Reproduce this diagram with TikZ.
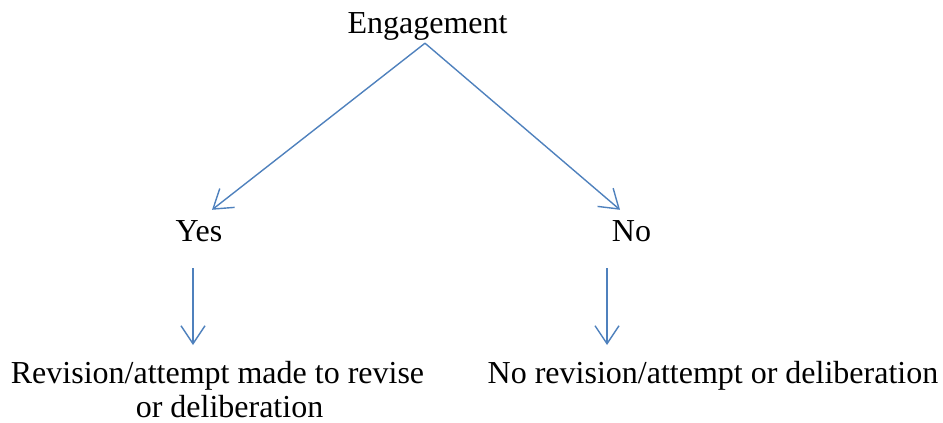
\documentclass[tikz,border=0pt]{standalone}
\usepackage{fontspec}
\setmainfont{Liberation Serif}
\usetikzlibrary{arrows.meta}
\definecolor{arrblue}{HTML}{4F81BD}
\tikzset{
  lbl/.style={inner sep=0pt, text height=22pt, text depth=7pt, font=\fontsize{32}{34}\selectfont},
  mlbl/.style={inner sep=0pt, align=center, font=\fontsize{32}{34}\selectfont},
  arr/.style={draw=arrblue, line width=1.4pt, -{Straight Barb[length=18pt, width=24pt, line width=1.4pt]}}
}
\begin{document}
\begin{tikzpicture}[x=1pt, y=-1pt]
\useasboundingbox (0,0) rectangle (943,423);
\node[lbl, anchor=base] (eng) at (427.5,33) {Engagement};
\node[lbl, anchor=base] (yes) at (199,241) {Yes};
\node[lbl, anchor=base] (no) at (631.5,241) {No};
\node[mlbl, anchor=north] (rev) at (217.5,361) {Revision/attempt made to revise\\\hspace*{24pt}or deliberation};
\node[mlbl, anchor=north] (norev) at (713,361) {No revision/attempt or deliberation};
\draw[arr] ([xshift=-2.5pt, yshift=-3pt]eng.south) -- ([xshift=13pt, yshift=9pt]yes.north);
\draw[arr] ([xshift=-2.5pt, yshift=-3pt]eng.south) -- ([xshift=-11.5pt, yshift=9pt]no.north);
\draw[arr] ([xshift=-6pt, yshift=-20pt]yes.south) -- ([xshift=-24.5pt, yshift=16pt]rev.north);
\draw[arr] ([xshift=-24.5pt, yshift=-20pt]no.south) -- ([xshift=-106pt, yshift=16pt]norev.north);
\end{tikzpicture}
\end{document}
